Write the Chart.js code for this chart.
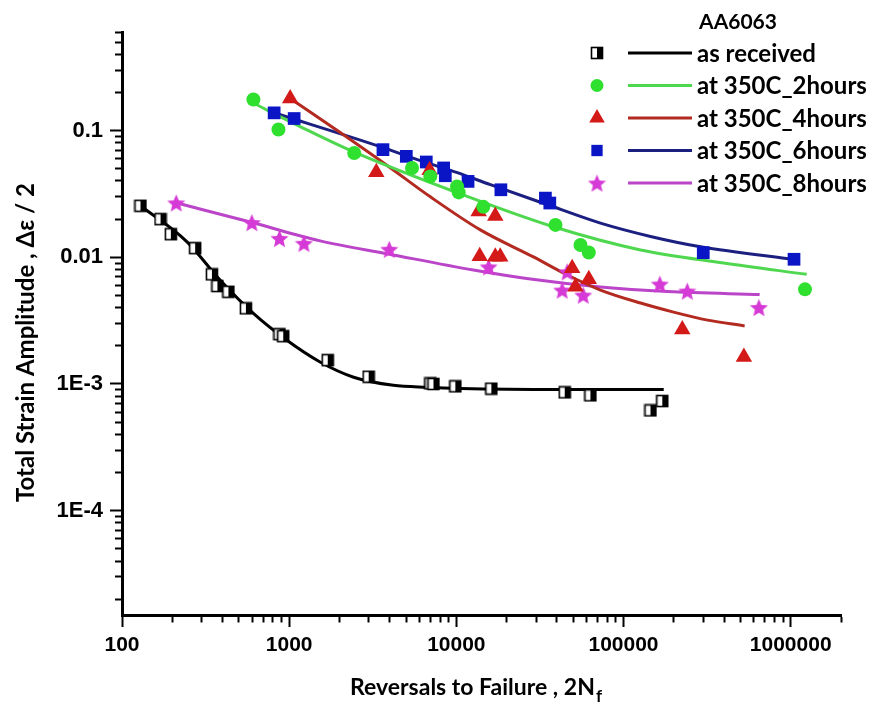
<!DOCTYPE html>
<html>
<head>
<meta charset="utf-8">
<title>AA6063 strain-life</title>
<script src="https://cdn.jsdelivr.net/npm/chart.js@4.4.1/dist/chart.umd.min.js"></script>
<style>
  html, body { margin: 0; padding: 0; background: #fff; }
  #wrap { position: relative; width: 869px; height: 706px; }
</style>
</head>
<body>
<div id="wrap"><canvas id="chart" width="869" height="706"></canvas></div>
<script>
// ===== DATA =====
const legendTitle = 'AA6063';
const seriesNames = ['as received', 'at 350C_2hours', 'at 350C_4hours', 'at 350C_6hours', 'at 350C_8hours'];

const asReceivedX = [129, 170, 196, 274, 345, 372, 433, 551, 875, 921, 1700, 2990, 6990, 7300, 9860, 16200, 44500, 63400, 145000, 170600];
const asReceivedY = [0.0255, 0.0200, 0.0152, 0.0118, 0.00733, 0.00593, 0.00534, 0.00395, 0.00247, 0.00238, 0.00154, 0.00114, 0.00101, 0.00100, 0.000957, 0.000918, 0.000858, 0.000813, 0.000618, 0.000733];
const asReceivedFitX = [129, 244, 386, 611, 969, 1530, 2430, 4200, 6700, 10600, 42000, 174000];
const asReceivedFitY = [0.0255, 0.0133, 0.00661, 0.00360, 0.00221, 0.00149, 0.00113, 0.000975, 0.00094, 0.000921, 0.000905, 0.000905];

const h2X = [611, 863, 2450, 5430, 6985, 10100, 10330, 14500, 39200, 55300, 62000, 1218000];
const h2Y = [0.176, 0.102, 0.0666, 0.0507, 0.0435, 0.0362, 0.0325, 0.0250, 0.0180, 0.0125, 0.0109, 0.00558];
const h2FitX = [600, 1164, 2417, 10140, 38100, 126500, 397000, 1247000];
const h2FitY = [0.1666, 0.1076, 0.0682, 0.0323, 0.0174, 0.01142, 0.00901, 0.00733];

const h4X = [1014, 3320, 6920, 13600, 17100, 13800, 17100, 18300, 49300, 51600, 62000, 224700, 525000];
const h4Y = [0.179, 0.0469, 0.0487, 0.0230, 0.0212, 0.0102, 0.0101, 0.0101, 0.00818, 0.00585, 0.00670, 0.00269, 0.00163];
const h4FitX = [1014, 2020, 4025, 6989, 13920, 28910, 46200, 72800, 126500, 199200, 318400, 530400];
const h4FitY = [0.1792, 0.0964, 0.0509, 0.0300, 0.01645, 0.01006, 0.00724, 0.00551, 0.00435, 0.00369, 0.00319, 0.00287];

const h6X = [813, 1071, 3640, 5020, 6610, 8395, 8590, 11750, 18470, 34100, 36230, 300000, 1047000];
const h6Y = [0.138, 0.1245, 0.0707, 0.0626, 0.0565, 0.0507, 0.0440, 0.0397, 0.0341, 0.0293, 0.0268, 0.01087, 0.00964];
const h6FitX = [802, 3655, 6343, 10140, 15990, 36560, 72800, 145100, 289100, 1101000];
const h6FitY = [0.1388, 0.0733, 0.0568, 0.0465, 0.0374, 0.0255, 0.0186, 0.0146, 0.0121, 0.00952];

const h8X = [211, 598, 875, 1225, 3970, 15600, 46000, 42950, 57400, 165000, 240700, 645700];
const h8Y = [0.0269, 0.0188, 0.0141, 0.0129, 0.01157, 0.0084, 0.00769, 0.00551, 0.00503, 0.00615, 0.00541, 0.00402];
const h8FitX = [211, 609, 1533, 3915, 12640, 27750, 72800, 183400, 652200];
const h8FitY = [0.0269, 0.0187, 0.01346, 0.01062, 0.00793, 0.00673, 0.00582, 0.00536, 0.00508];

const xMajorTicks = [100, 1000, 10000, 100000, 1000000];
const xTickLabels = ['100', '1000', '10000', '100000', '1000000'];
const yMajorTicks = [1e-5, 1e-4, 1e-3, 0.01, 0.1];
const yTickLabels = ['', '1E-4', '1E-3', '0.01', '0.1'];

const xTitle = 'Reversals to Failure , 2N';
const xTitleSub = 'f';
const yTitle = 'Total Strain Amplitude , \u0394\u03b5 / 2';

// ===== HELPERS =====
const X_MIN = 100, X_MAX = 2000000, Y_MIN = 1.5e-5, Y_MAX = 0.6;

function zip(xs, ys) {
    return xs.map((x, i) => ({ x: x, y: ys[i] }));
}

// minor ticks at 1..9 of every decade
function logTicks(decades, min, max) {
    const out = [];
    decades.forEach(d => {
        for (let m = 1; m <= 9; m++) {
            const v = m * d;
            if (v >= min * 0.999 && v <= max * 1.001) out.push(v);
        }
    });
    return out;
}

function isMajor(v, list) {
    return list.some(m => Math.abs(v / m - 1) < 1e-6);
}

// half open / half filled square, as in the original
function makeHalfSquare(size) {
    const c = document.createElement('canvas');
    c.width = size + 2; c.height = size + 2;
    const g = c.getContext('2d');
    g.fillStyle = '#fff';
    g.fillRect(1, 1, size, size);
    g.fillStyle = '#000';
    g.fillRect(1 + size / 2, 1, size / 2, size);
    g.strokeStyle = '#000';
    g.lineWidth = 1.6;
    g.strokeRect(1.5, 1.5, size - 1, size - 1);
    return c;
}

// filled five point star
function makeStar(size, color) {
    const c = document.createElement('canvas');
    c.width = size; c.height = size;
    const g = c.getContext('2d');
    const cx = size / 2, cy = size / 2 + 1, R = size / 2, r = R * 0.45;
    g.beginPath();
    for (let i = 0; i < 10; i++) {
        const a = -Math.PI / 2 + i * Math.PI / 5;
        const rr = i % 2 === 0 ? R : r;
        g.lineTo(cx + rr * Math.cos(a), cy + rr * Math.sin(a));
    }
    g.closePath();
    g.fillStyle = color;
    g.fill();
    return c;
}

const halfSquare = makeHalfSquare(12);
const star = makeStar(19, '#d63ad6');

const series = [
    { x: asReceivedX, y: asReceivedY, fx: asReceivedFitX, fy: asReceivedFitY, style: halfSquare, radius: 6, color: '#000', line: '#000' },
    { x: h2X, y: h2Y, fx: h2FitX, fy: h2FitY, style: 'circle', radius: 7, color: '#2fe02f', line: '#4fd84f' },
    { x: h4X, y: h4Y, fx: h4FitX, fy: h4FitY, style: 'triangle', radius: 9.5, color: '#d41919', line: '#b22a20' },
    { x: h6X, y: h6Y, fx: h6FitX, fy: h6FitY, style: 'rect', radius: 9, color: '#0a16c6', line: '#1b1f80' },
    { x: h8X, y: h8Y, fx: h8FitX, fy: h8FitY, style: star, radius: 9, color: '#d63ad6', line: '#bb45c8' }
];

const datasets = [];
series.forEach((s, i) => {
    datasets.push({
        label: seriesNames[i] + ' fit',
        data: zip(s.fx, s.fy),
        showLine: true,
        borderColor: s.line,
        borderWidth: 3,
        pointRadius: 0,
        cubicInterpolationMode: 'monotone',
        order: 2
    });
    datasets.push({
        label: seriesNames[i],
        data: zip(s.x, s.y),
        showLine: false,
        pointStyle: s.style,
        pointRadius: s.radius,
        pointBackgroundColor: s.color,
        pointBorderColor: s.color,
        pointBorderWidth: 0,
        order: 1
    });
});

// ===== PLUGINS =====
const FONT = 'Lato, "Open Sans", sans-serif';

const axisTitles = {
    id: 'axisTitles',
    afterDraw(chart) {
        const ctx = chart.ctx;
        const area = chart.chartArea;
        ctx.save();
        ctx.fillStyle = '#000';
        ctx.textAlign = 'left';
        ctx.textBaseline = 'alphabetic';
        ctx.font = 'bold 23px ' + FONT;
        const w1 = ctx.measureText(xTitle).width;
        ctx.font = 'bold 17px ' + FONT;
        const w2 = ctx.measureText(xTitleSub).width;
        const x0 = (area.left + area.right) / 2 - 6 - (w1 + w2) / 2;
        ctx.font = 'bold 23px ' + FONT;
        ctx.fillText(xTitle, x0, area.bottom + 80);
        ctx.font = 'bold 17px ' + FONT;
        ctx.fillText(xTitleSub, x0 + w1 + 1, area.bottom + 87);

        ctx.translate(26, (area.top + area.bottom) / 2 + 19);
        ctx.rotate(-Math.PI / 2);
        ctx.textAlign = 'center';
        ctx.textBaseline = 'middle';
        ctx.font = 'bold 24px ' + FONT;
        ctx.fillText(yTitle, 0, 0);
        ctx.restore();
    }
};

const legendBox = {
    id: 'legendBox',
    afterDraw(chart) {
        const ctx = chart.ctx;
        ctx.save();
        ctx.fillStyle = '#000';
        ctx.font = 'bold 21px ' + FONT;
        ctx.textAlign = 'center';
        ctx.textBaseline = 'middle';
        ctx.fillText(legendTitle, 738, 22);

        ctx.textAlign = 'left';
        series.forEach((s, i) => {
            const y = 53 + i * 32.5;
            // symbol
            ctx.fillStyle = s.color;
            ctx.strokeStyle = s.color;
            Chart.helpers.drawPoint(ctx, {
                pointStyle: s.style,
                radius: s.style === 'circle' ? 6.5 : (s.style === 'triangle' ? 9 : 8),
                rotation: 0,
                borderWidth: 0
            }, 597, y);
            // line sample
            ctx.beginPath();
            ctx.strokeStyle = s.line;
            ctx.lineWidth = 3;
            ctx.moveTo(628, y);
            ctx.lineTo(692, y);
            ctx.stroke();
            // text
            ctx.fillStyle = '#000';
            ctx.font = 'bold 24px ' + FONT;
            ctx.fillText(seriesNames[i], 697, y + 1);
        });
        ctx.restore();
    }
};

// ===== CHART =====
const minorLen = 7;
const majorLen = 12;

const ctx = document.getElementById('chart').getContext('2d');
const chart = new Chart(ctx, {
    type: 'scatter',
    data: { datasets: datasets },
    options: {
        responsive: false,
        animation: false,
        events: [],
        layout: { padding: { left: 0, right: 28, top: 32, bottom: 0 } },
        plugins: {
            legend: { display: false },
            tooltip: { enabled: false }
        },
        scales: {
            x: {
                type: 'logarithmic',
                min: X_MIN,
                max: X_MAX,
                afterBuildTicks: scale => {
                    scale.ticks = logTicks(xMajorTicks, X_MIN, X_MAX).map(v => ({ value: v }));
                },
                afterFit: scale => { scale.height = 91; },
                border: { display: true, color: '#000', width: 3 },
                grid: {
                    drawOnChartArea: false,
                    drawTicks: true,
                    tickLength: majorLen,
                    tickWidth: 2,
                    tickColor: '#000',
                    tickBorderDash: c => (c.tick && isMajor(c.tick.value, xMajorTicks)) ? [] : [minorLen - 1.5, 100]
                },
                ticks: {
                    autoSkip: false,
                    maxRotation: 0,
                    padding: 6,
                    color: '#000',
                    font: { family: '"Liberation Sans", Arial, sans-serif', size: 21, weight: 'bold' },
                    callback: value => {
                        const idx = xMajorTicks.findIndex(m => Math.abs(value / m - 1) < 1e-6);
                        return idx >= 0 ? xTickLabels[idx] : '';
                    }
                }
            },
            y: {
                type: 'logarithmic',
                min: Y_MIN,
                max: Y_MAX,
                afterBuildTicks: scale => {
                    scale.ticks = logTicks(yMajorTicks, Y_MIN, Y_MAX).map(v => ({ value: v }));
                },
                afterFit: scale => { scale.width = 122; },
                border: { display: true, color: '#000', width: 3 },
                grid: {
                    drawOnChartArea: false,
                    drawTicks: true,
                    tickLength: majorLen,
                    tickWidth: 2,
                    tickColor: '#000',
                    tickBorderDash: c => (c.tick && isMajor(c.tick.value, yMajorTicks)) ? [] : [0, majorLen - minorLen, minorLen, 100]
                },
                ticks: {
                    autoSkip: false,
                    padding: 7,
                    color: '#000',
                    font: { family: '"Liberation Sans", Arial, sans-serif', size: 22, weight: 'bold' },
                    callback: value => {
                        const idx = yMajorTicks.findIndex(m => Math.abs(value / m - 1) < 1e-6);
                        return idx >= 0 ? yTickLabels[idx] : '';
                    }
                }
            }
        }
    },
    plugins: [axisTitles, legendBox]
});
</script>
</body>
</html>
